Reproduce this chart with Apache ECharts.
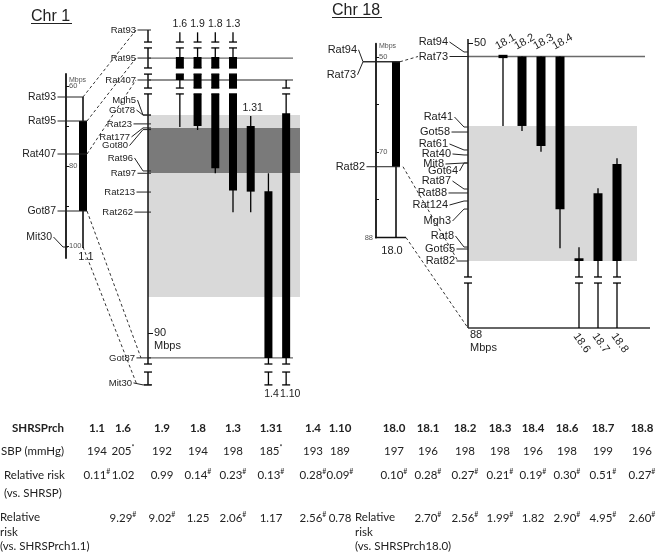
<!DOCTYPE html>
<html>
<head>
<meta charset="utf-8">
<script src="https://cdn.jsdelivr.net/npm/echarts@6.0.0/dist/echarts.min.js"></script>
<style>
html,body{margin:0;padding:0;background:#fff;}
#chart{width:660px;height:553px;}
</style>
</head>
<body>
<div id="chart"></div>
<script>
// ===================== DATA =====================
// Chr 1 overview (SHRSPrch1.1), Mbps
const chr1OverviewStrain = ['1.1'];
const chr1OverviewThinStart = [62.75];
const chr1OverviewThickStart = [68.75];
const chr1OverviewThickEnd = [91.25];
const chr1OverviewThinEnd = [100.5];
const chr1OverviewMarkers = ['Rat93', 'Rat95', 'Rat407', 'Got87', 'Mit30'];
const chr1OverviewMarkerMbps = [62.75, 68.75, 77.0, 91.25, 100.25];
const chr1OverviewTicks = [60, 70, 80, 90, 100];
const chr1OverviewTickLabels = [60, 80, 100];

// Chr 1 detailed map (map position, Mbps scale with breaks)
const chr1Strains = ['1.6', '1.9', '1.8', '1.3', '1.31', '1.4', '1.10'];
const chr1ThinStart = [75.75, 75.75, 75.75, 75.75, 79.72, 82.43, 78.01];
const chr1ThickStart = [76.92, 76.92, 76.92, 76.92, 80.19, 83.28, 79.59];
const chr1ThickEnd = [78.01, 80.19, 82.19, 83.25, 83.30, 91.18, 91.18];
const chr1ThinEnd = [80.24, 80.38, 82.43, 84.28, 84.28, 92.46, 92.46];
const chr1Markers = ['Rat93', 'Rat95', 'Rat407', 'Mgh5', 'Got78', 'Rat23', 'Rat177', 'Got80', 'Rat96', 'Rat97', 'Rat213', 'Rat262', 'Got87', 'Mit30'];
const chr1MarkerMbps = [75.64, 76.97, 78.01, 79.67, 79.67, 80.09, 80.28, 80.36, 82.32, 82.43, 83.32, 84.27, 91.18, 92.46];
const chr1Span = [75.64, 92.46];
const chr1Breaks = [[76.21, 76.49], [77.44, 77.73], [78.39, 78.67], [91.47, 91.85]];
const chr1Shaded = [[79.67, 88.29], [80.28, 82.42]];
const chr1CrossLines = ['Rat95', 'Rat407', 'Got87'];
const chr1Ticks = [80, 90];

// Chr 18 overview (SHRSPrch18.0), Mbps
const chr18OverviewStrain = ['18.0'];
const chr18OverviewThinStart = [51.0];
const chr18OverviewThickStart = [51.0];
const chr18OverviewThickEnd = [73.1];
const chr18OverviewThinEnd = [88.0];
const chr18OverviewMarkers = ['Rat94', 'Rat73', 'Rat82'];
const chr18OverviewMarkerMbps = [51.0, 51.0, 73.1];
const chr18OverviewTicks = [50, 60, 70, 80];
const chr18OverviewTickLabels = [50, 70];
const chr18OverviewEndLabel = '88';

// Chr 18 detailed map
const chr18Strains = ['18.1', '18.2', '18.3', '18.4', '18.6', '18.7', '18.8'];
const chr18ThinStart = [51.43, 51.43, 51.43, 51.43, 71.62, 65.38, 62.20];
const chr18ThickStart = [51.25, 51.43, 51.43, 51.43, 72.78, 65.90, 62.80];
const chr18ThickEnd = [51.60, 58.78, 60.90, 67.60, 73.07, 73.07, 73.07];
const chr18ThinEnd = [58.78, 59.31, 61.50, 71.72, 80.16, 80.16, 80.16];
const chr18Markers = ['Rat94', 'Rat73', 'Rat41', 'Got58', 'Rat61', 'Rat40', 'Mit8', 'Got64', 'Rat87', 'Rat88', 'Rat124', 'Mgh3', 'Rat8', 'Got65', 'Rat82'];
const chr18MarkerMbps = [50.95, 51.43, 58.89, 59.42, 61.32, 61.85, 62.70, 62.70, 65.45, 65.87, 66.72, 67.57, 71.59, 71.80, 73.07];
const chr18Span = [49.58, 80.16];
const chr18Breaks = [[74.76, 75.40]];
const chr18Shaded = [[58.78, 73.07]];
const chr18CrossLines = ['Rat73'];
const chr18Ticks = [50, 60, 70];
const chr18EndLabel = '88';

// Table
const tableStrains = ['1.1', '1.6', '1.9', '1.8', '1.3', '1.31', '1.4', '1.10', '18.0', '18.1', '18.2', '18.3', '18.4', '18.6', '18.7', '18.8'];
const sbpValues = [194, 205, 192, 194, 198, 185, 193, 189, 197, 196, 198, 198, 196, 198, 199, 196];
const sbpFlags = ['', '*', '', '', '', '*', '', '', '', '', '', '', '', '', '', ''];
const rrVsShrsp = [0.11, 1.02, 0.99, 0.14, 0.23, 0.13, 0.28, 0.09, 0.10, 0.28, 0.27, 0.21, 0.19, 0.30, 0.51, 0.27];
const rrVsShrspFlags = ['#', '', '', '#', '#', '#', '#', '#', '#', '#', '#', '#', '#', '#', '#', '#'];
const rrVsParent = [null, 9.29, 9.02, 1.25, 2.06, 1.17, 2.56, 0.78, null, 2.70, 2.56, 1.99, 1.82, 2.90, 4.95, 2.60];
const rrVsParentFlags = ['', '#', '#', '', '#', '', '#', '', '', '#', '#', '#', '', '#', '#', '#'];
const rowLabels = ['SHRSPrch', 'SBP (mmHg)', 'Relative risk', '(vs. SHRSP)', 'Relative\nrisk\n(vs. SHRSPrch1.1)'];
const parent18Label = 'Relative\nrisk\n(vs. SHRSPrch18.0)';
const titles = ['Chr 1', 'Chr 18'];

// ===================== LAYOUT / STYLE =====================
const FONT = '"Liberation Sans", Arial, sans-serif';
const TFONT = 'Lato, "Open Sans", sans-serif';
const INK = '#222';
const BAR = '#000';

const GRIDS = [
  {left: 66, top: 74, width: 34, height: 184},
  {left: 171, top: 16.5, width: 124, height: 379.8},
  {left: 376, top: 43.7, width: 40, height: 193.8},
  {left: 493.5, top: 33.55, width: 133, height: 302.4}
];

const LAY = {
  ov1: {offset: 0, hw: 4, thin: 1.5, cap: 4, gap: 10, kink: 3, tickOut: 2, fs: 10.5,
    dx: [0, 0, 0, 0, -4], dy: [0, 0, 0, 0, -10],
    lineEnd: ['strain', 'strain', 'strain', 'strain', 'axis'],
    side: ['bottom'], sdx: [3], sfs: 11, topGap: 8, bottomGap: 9},
  det1: {offset: 23, hw: 4, thin: 1.3, cap: 4, gap: 12, kink: 5, tickOut: 3, fs: 9.5,
    dx: [0, 0, 0, 0, -1, -4, -6, -8, -3, 0, -1, -3, -1, -4],
    dy: [0, 0, 0, -15, -5, 0, 9, 16, -13, 0, 0, 0, 0, -2],
    side: ['top', 'top', 'top', 'top', 'top', 'bottom', 'bottom'], sdx: [0, 0, 0, 0, 2, 3, 4],
    sfs: 10.5, topGap: 8, bottomGap: 9, regionPad: 5, crossPad: -2, capEndAt: 92.46,
    connGap: [12, 12, 12, 7, 11]},
  ov18: {offset: 0, hw: 4, thin: 1.5, cap: 4, gap: 11, kink: 13, tickOut: 0, fs: 11,
    dx: [-8, -9, 0], dy: [-12, 13, 0], lineEnd: ['strain', 'strain', 'strain'],
    side: ['bottom'], sdx: [-4], sfs: 11, topGap: 8, bottomGap: 13},
  det18: {offset: 25.5, hw: 4.5, thin: 1.3, cap: 4, gap: 17, kink: 4, tickOut: 0, fs: 11,
    dx: [-3, -3, 2, -1, -3, 0, -7, 7, 0, -4, -3, 0, 3, 4, 4],
    dy: [-10, 0, -10, 0, -6, -1, 1, 8, -8, 0, 4, 12, -11, 0, 0],
    side: ['rtop', 'rtop', 'rtop', 'rtop', 'rbottom', 'rbottom', 'rbottom'], sdx: [0, 0, 0, 0, 0, 0, 0],
    sfs: 11, topGap: 8, bottomGap: 9, regionPad: 10.5, crossPad: 18.5, basePad: 23.5}
};
const SHADE = ['#d9d9d9', '#7a7a7a'];

const TABLE_X = [97, 123, 162, 198, 233, 271, 313, 340, 394, 428, 465, 500, 533, 567, 603, 642];
const TABLE_Y = {head: 428, sbp: 451, rr: 475, rr2: 493, par: 518};
const TFS = 11.5;

// ===================== HELPERS =====================
function capLine(x, y, hw) {
  return {type: 'line', shape: {x1: x - hw, y1: y, x2: x + hw, y2: y}, style: {stroke: BAR, lineWidth: 1.3}};
}

function yAx(g, min, max, o) {
  return {
    gridIndex: g, type: 'value', min: min, max: max, inverse: true, offset: o.offset || 0, position: 'left',
    axisLine: {show: !!o.line, lineStyle: {color: '#111', width: 1.8}},
    axisTick: {show: true, inside: true, length: o.tickLen, customValues: o.ticks, lineStyle: {color: '#111', width: 1}},
    axisLabel: {show: true, inside: true, margin: o.margin, customValues: o.labels, fontSize: o.fs, color: o.color, fontFamily: FONT},
    splitLine: {show: false}
  };
}

function strainSeries(g, strains, ts, ks, ke, te, lay) {
  return {
    type: 'custom', xAxisIndex: g, yAxisIndex: g, z: 4, silent: true,
    data: strains.map((s, i) => [i, ts[i], ks[i], ke[i], te[i]]),
    encode: {x: 0, y: [1, 2, 3, 4]},
    renderItem(params, api) {
      const i = params.dataIndex;
      const pA = api.coord([i, api.value(1)]);
      const x = pA[0], yA = pA[1];
      const yB = api.coord([i, api.value(2)])[1];
      const yC = api.coord([i, api.value(3)])[1];
      const yD = api.coord([i, api.value(4)])[1];
      const ch = [
        {type: 'line', shape: {x1: x, y1: yA, x2: x, y2: yD}, style: {stroke: BAR, lineWidth: lay.thin}},
        {type: 'rect', shape: {x: x - lay.hw, y: yB, width: 2 * lay.hw, height: Math.max(yC - yB, 2.5)}, style: {fill: BAR}}
      ];
      if (lay.capEndAt != null && api.value(4) >= lay.capEndAt - 1e-9) ch.push(capLine(x, yD, lay.cap));
      const side = lay.side[i], sdx = lay.sdx[i] || 0;
      const st = {text: strains[i], fontSize: lay.sfs, fontFamily: FONT, fill: INK};
      if (side === 'top') ch.push({type: 'text', style: Object.assign(st, {x: x + sdx, y: yA - lay.topGap, align: 'center', verticalAlign: 'middle'})});
      else if (side === 'bottom') ch.push({type: 'text', style: Object.assign(st, {x: x + sdx, y: yD + lay.bottomGap, align: 'center', verticalAlign: 'middle'})});
      else if (side === 'rtop') ch.push({type: 'text', x: x - 4, y: yA - 4.5, rotation: 0.52, style: Object.assign(st, {x: 0, y: 0, align: 'left', verticalAlign: 'bottom'})});
      else if (side === 'rbottom') ch.push({type: 'text', x: x + 1, y: yD + 3, rotation: -0.95, style: Object.assign(st, {x: 0, y: 0, align: 'left', verticalAlign: 'top'})});
      return {type: 'group', children: ch};
    }
  };
}

function markerSeries(g, names, pos, lay, strainRange) {
  return {
    type: 'custom', xAxisIndex: g, yAxisIndex: g, z: 6, silent: true,
    data: pos.map(v => [0, v]),
    encode: {x: 0, y: 1},
    renderItem(params, api) {
      const i = params.dataIndex;
      const cs = params.coordSys;
      const ax = cs.x - lay.offset;
      const p = api.coord([0, api.value(1)]);
      const y = p[1];
      const dy = lay.dy[i] || 0, dx = lay.dx[i] || 0;
      const ly = y + dy;
      const rx = ax - lay.gap + dx;
      let ex;
      if (lay.lineEnd && lay.lineEnd[i] === 'strain') {
        const v = api.value(1);
        const inThick = strainRange && v >= strainRange[0] && v <= strainRange[1];
        ex = p[0] + (inThick ? lay.hw : 0);
      } else ex = ax + lay.tickOut;
      const pts = dy === 0 ? [[rx + 1.5, y], [ex, y]] : [[rx + 1.5, ly], [ax - lay.kink, y], [ex, y]];
      return {type: 'group', children: [
        {type: 'polyline', shape: {points: pts}, style: {stroke: INK, lineWidth: 1, fill: null}},
        {type: 'text', style: {text: names[i], x: rx, y: ly, align: 'right', verticalAlign: 'middle', fontSize: lay.fs, fontFamily: FONT, fill: INK}}
      ]};
    }
  };
}

function regionSeries(g, shaded, lay) {
  return {
    type: 'custom', xAxisIndex: g, yAxisIndex: g, z: 1, silent: true,
    data: shaded.map(r => [0, r[0], r[1]]), encode: {x: 0, y: [1, 2]},
    renderItem(params, api) {
      const cs = params.coordSys, ax = cs.x - lay.offset;
      const y1 = api.coord([0, api.value(1)])[1], y2 = api.coord([0, api.value(2)])[1];
      return {type: 'rect', shape: {x: ax, y: y1, width: cs.x + cs.width + lay.regionPad - ax, height: y2 - y1}, style: {fill: SHADE[params.dataIndex]}};
    }
  };
}

function crossSeries(g, names, markers, pos, lay) {
  return {
    type: 'custom', xAxisIndex: g, yAxisIndex: g, z: 2, silent: true,
    data: names.map(n => [0, pos[markers.indexOf(n)]]), encode: {x: 0, y: 1},
    renderItem(params, api) {
      const cs = params.coordSys, ax = cs.x - lay.offset;
      const y = api.coord([0, api.value(1)])[1];
      return {type: 'line', shape: {x1: ax, y1: y, x2: cs.x + cs.width + lay.crossPad, y2: y}, style: {stroke: '#6a6a6a', lineWidth: 1.3}};
    }
  };
}

function breakSeries(g, breaks, strains, ts, te, span, lay) {
  return {
    type: 'custom', xAxisIndex: g, yAxisIndex: g, z: 5, silent: true,
    data: breaks.map(b => [0, b[0], b[1]]), encode: {x: 0, y: [1, 2]},
    renderItem(params, api) {
      const b = breaks[params.dataIndex];
      const cs = params.coordSys, ax = cs.x - lay.offset;
      const y1 = api.coord([0, b[0]])[1], y2 = api.coord([0, b[1]])[1];
      const xs = [];
      if (span[0] < b[0] && span[1] > b[1]) xs.push(ax);
      strains.forEach((s, k) => { if (ts[k] < b[0] && te[k] > b[1]) xs.push(api.coord([k, b[0]])[0]); });
      const ch = [];
      xs.forEach(x => {
        ch.push({type: 'rect', shape: {x: x - lay.hw - 1.5, y: y1, width: 2 * lay.hw + 3, height: y2 - y1}, style: {fill: '#fff'}});
        ch.push(capLine(x, y1, lay.cap), capLine(x, y2, lay.cap));
      });
      return {type: 'group', children: ch};
    }
  };
}

function decorSeries(g, span, lay, extra) {
  return {
    type: 'custom', xAxisIndex: g, yAxisIndex: g, z: 4, silent: true,
    data: [[0, span[0], span[1]]], encode: {x: 0, y: [1, 2]},
    renderItem(params, api) {
      const cs = params.coordSys, ax = cs.x - lay.offset;
      const y1 = api.coord([0, span[0]])[1], y2 = api.coord([0, span[1]])[1];
      const ch = [];
      if (lay.drawAxis) ch.push({type: 'line', shape: {x1: ax, y1: y1, x2: ax, y2: y2}, style: {stroke: '#111', lineWidth: 1.5}});
      extra(ch, cs, ax, api, y1, y2);
      return {type: 'group', children: ch};
    }
  };
}

function smallText(text, x, y, fs, fill, align) {
  return {type: 'text', style: {text: text, x: x, y: y, fontSize: fs, fontFamily: FONT, fill: fill, align: align || 'left', verticalAlign: 'middle'}};
}

// ===================== OPTION =====================
const option = {
  animation: false,
  grid: GRIDS.map(g => Object.assign({containLabel: false}, g)),
  xAxis: [
    {gridIndex: 0, type: 'category', data: chr1OverviewStrain, show: false},
    {gridIndex: 1, type: 'category', data: chr1Strains, show: false},
    {gridIndex: 2, type: 'category', data: chr18OverviewStrain, show: false},
    {gridIndex: 3, type: 'category', data: chr18Strains, show: false}
  ],
  yAxis: [
    yAx(0, 57, 103, {line: true, tickLen: 3, ticks: chr1OverviewTicks, labels: chr1OverviewTickLabels, margin: 3, fs: 7.5, color: '#555'}),
    yAx(1, 75, 93, {offset: LAY.det1.offset, line: false, tickLen: 5, ticks: chr1Ticks, labels: chr1Ticks, margin: 6, fs: 11, color: INK}),
    yAx(2, 47.2, 88, {line: true, tickLen: 3, ticks: chr18OverviewTicks, labels: chr18OverviewTickLabels, margin: 3, fs: 7.5, color: '#555'}),
    yAx(3, 49, 81, {offset: LAY.det18.offset, line: false, tickLen: 5, ticks: chr18Ticks, labels: chr18Ticks, margin: 6, fs: 11, color: INK})
  ],
  series: [
    // Chr1 overview
    decorSeries(0, [57, 103], LAY.ov1, (ch, cs, ax) => {
      ch.push(smallText('Mbps', ax + 3, cs.y + 6, 7, '#555'));
    }),
    strainSeries(0, chr1OverviewStrain, chr1OverviewThinStart, chr1OverviewThickStart, chr1OverviewThickEnd, chr1OverviewThinEnd, LAY.ov1),
    markerSeries(0, chr1OverviewMarkers, chr1OverviewMarkerMbps, LAY.ov1, [chr1OverviewThickStart[0], chr1OverviewThickEnd[0]]),

    // Chr1 detail
    regionSeries(1, chr1Shaded, LAY.det1),
    crossSeries(1, chr1CrossLines, chr1Markers, chr1MarkerMbps, LAY.det1),
    decorSeries(1, chr1Span, Object.assign({drawAxis: true}, LAY.det1), (ch, cs, ax, api, y1, y2) => {
      ch.push(capLine(ax, y2, LAY.det1.cap));
      const y90 = api.coord([0, chr1Ticks[1]])[1];
      ch.push(smallText('Mbps', ax + 6, y90 + 13, 11, INK));
    }),
    strainSeries(1, chr1Strains, chr1ThinStart, chr1ThickStart, chr1ThickEnd, chr1ThinEnd, LAY.det1),
    breakSeries(1, chr1Breaks, chr1Strains, chr1ThinStart, chr1ThinEnd, chr1Span, LAY.det1),
    markerSeries(1, chr1Markers, chr1MarkerMbps, LAY.det1, null),

    // Chr18 overview
    decorSeries(2, [47.2, chr18OverviewThinEnd[0]], LAY.ov18, (ch, cs, ax, api, y1, y2) => {
      ch.push(smallText('Mbps', ax + 3, cs.y + 2.5, 7, '#555'));
      ch.push(smallText(chr18OverviewEndLabel, ax - 3, y2, 7.5, '#555', 'right'));
      const sx = api.coord([0, chr18OverviewThinEnd[0]])[0];
      ch.push({type: 'line', shape: {x1: ax - 1, y1: y2, x2: sx + 10, y2: y2}, style: {stroke: '#111', lineWidth: 1.5}});
    }),
    strainSeries(2, chr18OverviewStrain, chr18OverviewThinStart, chr18OverviewThickStart, chr18OverviewThickEnd, chr18OverviewThinEnd, LAY.ov18),
    markerSeries(2, chr18OverviewMarkers, chr18OverviewMarkerMbps, LAY.ov18, [chr18OverviewThickStart[0], chr18OverviewThickEnd[0]]),

    // Chr18 detail
    regionSeries(3, chr18Shaded, LAY.det18),
    crossSeries(3, chr18CrossLines, chr18Markers, chr18MarkerMbps, LAY.det18),
    decorSeries(3, chr18Span, Object.assign({drawAxis: true}, LAY.det18), (ch, cs, ax, api, y1, y2) => {
      ch.push({type: 'line', shape: {x1: ax, y1: y2, x2: cs.x + cs.width + LAY.det18.basePad, y2: y2}, style: {stroke: '#333', lineWidth: 1.5}});
      ch.push(smallText(chr18EndLabel, ax + 2, y2 + 7, 11, INK));
      ch.push(smallText('Mbps', ax + 2, y2 + 20, 11, INK));
    }),
    strainSeries(3, chr18Strains, chr18ThinStart, chr18ThickStart, chr18ThickEnd, chr18ThinEnd, LAY.det18),
    breakSeries(3, chr18Breaks, chr18Strains, chr18ThinStart, chr18ThinEnd, chr18Span, LAY.det18),
    markerSeries(3, chr18Markers, chr18MarkerMbps, LAY.det18, null)
  ]
};

const chart = echarts.init(document.getElementById('chart'), null, {renderer: 'canvas'});
chart.setOption(option);

// ===================== GRAPHIC: connectors, titles, table =====================
const els = [];
function dash(a, b) {
  return {type: 'line', silent: true, z: 3, shape: {x1: a[0], y1: a[1], x2: b[0], y2: b[1]}, style: {stroke: '#333', lineWidth: 1, lineDash: [3, 2.5]}};
}
// Chr1 connectors
chr1OverviewMarkers.forEach((m, i) => {
  const v = chr1OverviewMarkerMbps[i];
  const p = chart.convertToPixel({gridIndex: 0}, [0, v]);
  const inThick = v >= chr1OverviewThickStart[0] && v <= chr1OverviewThickEnd[0];
  const j = chr1Markers.indexOf(m);
  const q = chart.convertToPixel({gridIndex: 1}, [0, chr1MarkerMbps[j]]);
  const ax = GRIDS[1].left - LAY.det1.offset;
  els.push(dash([p[0] + (inThick ? LAY.ov1.hw : 0), p[1]], [ax - LAY.det1.connGap[i], q[1]]));
});
// Chr18 connectors
(function () {
  const ax = GRIDS[3].left - LAY.det18.offset;
  const p1 = chart.convertToPixel({gridIndex: 2}, [0, chr18OverviewMarkerMbps[1]]);
  const q1 = chart.convertToPixel({gridIndex: 3}, [0, chr18MarkerMbps[chr18Markers.indexOf('Rat73')]]);
  els.push(dash([p1[0] + LAY.ov18.hw, p1[1]], [ax - 50, q1[1]]));
  const p2 = chart.convertToPixel({gridIndex: 2}, [0, chr18OverviewMarkerMbps[2]]);
  const q2 = chart.convertToPixel({gridIndex: 3}, [0, chr18MarkerMbps[chr18Markers.indexOf('Rat82')]]);
  els.push(dash([p2[0] + LAY.ov18.hw + 3, p2[1]], [ax - 10, q2[1]]));
  const p3 = chart.convertToPixel({gridIndex: 2}, [0, chr18OverviewThinEnd[0]]);
  const q3 = chart.convertToPixel({gridIndex: 3}, [0, chr18Span[1]]);
  els.push(dash([p3[0] + 10, p3[1]], [ax, q3[1]]));
})();

// Titles
[[titles[0], 31, 16.5], [titles[1], 332, 10.5]].forEach(t => {
  els.push({type: 'text', x: t[1], y: t[2], silent: true, style: {text: t[0], fontSize: 16, fontFamily: FONT, fill: INK, align: 'left', verticalAlign: 'middle'}});
});
els.push({type: 'line', silent: true, shape: {x1: 31, y1: 23.5, x2: 72, y2: 23.5}, style: {stroke: INK, lineWidth: 1}});
els.push({type: 'line', silent: true, shape: {x1: 332, y1: 17.5, x2: 382, y2: 17.5}, style: {stroke: INK, lineWidth: 1}});

// Table
function cell(x, y, txt, flag, bold) {
  return {type: 'text', x: x, y: y, silent: true, style: {
    text: flag ? '{v|' + txt + '}{s|' + flag + '}' : '{v|' + txt + '}',
    align: 'center', verticalAlign: 'middle',
    rich: {
      v: {fontSize: TFS, fontFamily: TFONT, fontWeight: bold ? 'bold' : 'normal', fill: INK, color: INK, lineHeight: 14},
      s: {fontSize: 7, fontFamily: TFONT, fill: INK, color: INK, lineHeight: 8, verticalAlign: 'top'}
    }
  }};
}
function label(x, y, txt, bold, lh) {
  return {type: 'text', x: x, y: y, silent: true, style: {text: txt, fontSize: TFS, fontFamily: TFONT, fontWeight: bold ? 'bold' : 'normal', fill: INK, align: 'left', verticalAlign: 'top', lineHeight: lh || 14}};
}
tableStrains.forEach((s, i) => {
  const x = TABLE_X[i];
  els.push(cell(x, TABLE_Y.head, s, '', true));
  els.push(cell(x, TABLE_Y.sbp, String(sbpValues[i]), sbpFlags[i], false));
  els.push(cell(x, TABLE_Y.rr, rrVsShrsp[i].toFixed(2), rrVsShrspFlags[i], false));
  if (rrVsParent[i] != null) els.push(cell(x, TABLE_Y.par, rrVsParent[i].toFixed(2), rrVsParentFlags[i], false));
});
els.push(label(12, TABLE_Y.head - 7, rowLabels[0], true));
els.push(label(1, TABLE_Y.sbp - 7, rowLabels[1], false));
els.push(label(4, TABLE_Y.rr - 7, rowLabels[2], false));
els.push(label(4, TABLE_Y.rr2 - 7, rowLabels[3], false));
els.push(label(0, TABLE_Y.par - 7.5, rowLabels[4], false, 14.5));
els.push(label(355, TABLE_Y.par - 7.5, parent18Label, false, 14.5));

chart.setOption({graphic: {elements: els}});
</script>
</body>
</html>
